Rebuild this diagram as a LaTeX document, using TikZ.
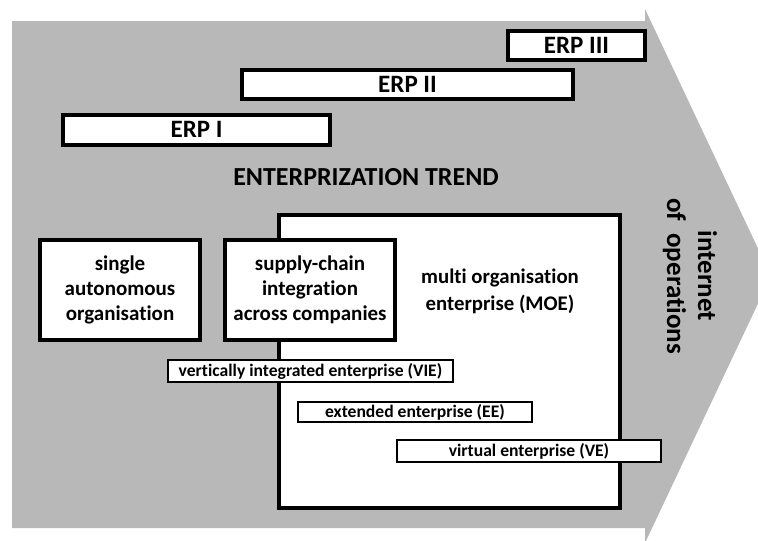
\documentclass[tikz,border=0pt]{standalone}
\usepackage{fontspec}
\setmainfont{Carlito}[Ligatures=NoCommon]
\definecolor{arrowgray}{HTML}{B8B8B8}
\begin{document}
\begin{tikzpicture}[x=1pt,y=-1pt,
  thickbox/.style={draw=black, fill=white, line width=4pt, inner sep=0pt, align=center},
  thinbox/.style={draw=black, fill=white, line width=2pt, inner sep=0pt, align=center,
    font=\bfseries\fontsize{17.6}{20}\selectfont},
  erpfont/.style={font=\bfseries\fontsize{25}{28}\selectfont},
  orgfont/.style={font=\bfseries\fontsize{21}{25}\selectfont},
  plaintext/.style={inner sep=0pt, align=center}]
\useasboundingbox (0,0) rectangle (758,541);

% the broad trend arrow
\fill[arrowgray] (12,21) -- (645,21) -- (645,9) -- (771,276) -- (645,543)
  -- (645,528) -- (12,528) -- cycle;

% ERP generations
\node[thickbox, erpfont, minimum width=137pt, minimum height=29pt] (erp3) at (576.5,45.5) {ERP III};
\node[thickbox, erpfont, minimum width=331pt, minimum height=29pt] (erp2) at (407.5,84.5) {ERP II};
\node[thickbox, erpfont, minimum width=267pt, minimum height=30pt] (erp1) at (196.5,129.5) {ERP I};

\node[plaintext, font=\bfseries\fontsize{26}{30}\selectfont] (trend) at (366,177) {ENTERPRIZATION TREND};

% multi organisation enterprise
\node[thickbox, minimum width=341pt, minimum height=293pt] (moe) at (449.5,361.5) {};
\node[plaintext, font=\bfseries\fontsize{20.8}{27}\selectfont] (moetext) at (500,291)
  {multi organisation\\enterprise (MOE)};

% organisational forms
\node[thickbox, orgfont, minimum width=160pt, minimum height=100pt] (single) at (120,290)
  {single\\autonomous\\organisation};
\node[thickbox, orgfont, minimum width=170pt, minimum height=100pt] (supply) at (310,290)
  {supply-chain\\integration\\across companies};

% enterprise types
\node[thinbox, minimum width=285pt, minimum height=22pt] (vie) at (310.5,371)
  {vertically integrated enterprise (VIE)};
\node[thinbox, minimum width=234pt, minimum height=20pt] (ee) at (415,412)
  {extended enterprise (EE)};
\node[thinbox, minimum width=264pt, minimum height=22pt] (ve) at (529,451)
  {virtual enterprise (VE)};

% label along the arrow head
\node[plaintext, rotate=-90, font=\bfseries\fontsize{27}{31}\selectfont] (iop) at (690,276)
  {internet\\of\ \ operations};
\end{tikzpicture}
\end{document}
